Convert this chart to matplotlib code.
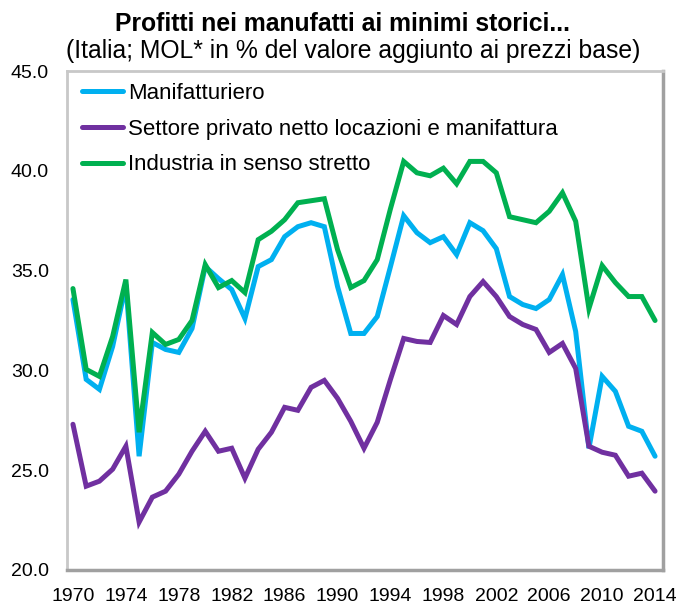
import matplotlib
matplotlib.use("Agg")
import matplotlib.pyplot as plt
import numpy as np

plt.rcParams["font.family"] = ["Liberation Sans", "DejaVu Sans"]

years = list(range(1970, 2015))

manifatturiero = [33.55, 29.55, 29.05, 31.2, 34.3, 25.7, 31.4, 31.05, 30.9, 32.1,
                  35.2, 34.6, 34.05, 32.6, 35.2, 35.55, 36.7, 37.2, 37.4, 37.2,
                  34.2, 31.85, 31.85, 32.7, 35.2, 37.75, 36.9, 36.4, 36.7, 35.8,
                  37.4, 37.0, 36.1, 33.7, 33.3, 33.1, 33.55, 34.8, 31.95, 26.1,
                  29.7, 28.95, 27.2, 26.95, 25.7]

settore_privato = [27.3, 24.2, 24.45, 25.05, 26.2, 22.4, 23.65, 23.95, 24.8, 25.95,
                   26.95, 25.95, 26.1, 24.6, 26.05, 26.9, 28.15, 28.0, 29.15, 29.5,
                   28.6, 27.45, 26.1, 27.4, 29.55, 31.6, 31.45, 31.4, 32.75, 32.3,
                   33.7, 34.45, 33.7, 32.7, 32.3, 32.05, 30.9, 31.35, 30.1, 26.2,
                   25.9, 25.75, 24.7, 24.85, 23.95]

industria = [34.1, 30.05, 29.7, 31.7, 34.55, 26.9, 31.9, 31.3, 31.55, 32.5,
             35.3, 34.15, 34.5, 33.9, 36.55, 36.97, 37.55, 38.4, 38.5, 38.6,
             36.05, 34.15, 34.5, 35.55, 38.1, 40.47, 39.9, 39.75, 40.13, 39.35,
             40.47, 40.47, 39.9, 37.7, 37.55, 37.4, 37.97, 38.9, 37.47, 33.1,
             35.25, 34.4, 33.7, 33.7, 32.5]

labels = ["Manifatturiero",
          "Settore privato netto locazioni e manifattura",
          "Industria in senso stretto"]
colors = ["#00B0F0", "#7030A0", "#00B050"]

fig = plt.figure(figsize=(6.78, 6.04), dpi=100)
ax = fig.add_axes([67 / 678, 34 / 604, 596 / 678, 499 / 604])

for series, lab, col in zip([manifatturiero, settore_privato, industria], labels, colors):
    ax.plot(years, series, color=col, linewidth=3.6, label=lab,
            solid_joinstyle="miter", solid_capstyle="round")

ax.set_xlim(1969.55, 2014.6)
ax.set_ylim(20, 45)
ax.set_xticks(years[::4])
ax.set_yticks(np.arange(20, 45.1, 5))
ax.set_yticklabels([f"{v:.1f}" for v in np.arange(20, 45.1, 5)])
ax.tick_params(length=0, labelsize=14)
ax.tick_params(axis="y", pad=13)
ax.tick_params(axis="x", pad=13)

for side in ["left", "top"]:
    ax.spines[side].set_color("#C8C8C8")
    ax.spines[side].set_linewidth(2)
for side in ["right", "bottom"]:
    ax.spines[side].set_color("#A0A0A0")
    ax.spines[side].set_linewidth(2.5)

ax.legend(loc="upper left", bbox_to_anchor=(0.009, 0.996), frameon=False,
          fontsize=16, handlelength=1.85, handletextpad=0.2, labelspacing=0.66,
          borderaxespad=0.05)

fig.text(0.505, 0.96, "Profitti nei manufatti ai minimi storici...", ha="center",
         va="center", fontsize=17.8, fontweight="bold")
fig.text(0.521, 0.915, "(Italia; MOL* in % del valore aggiunto ai prezzi base)",
         ha="center", va="center", fontsize=17.8)

fig.savefig("out.png", dpi=100)
